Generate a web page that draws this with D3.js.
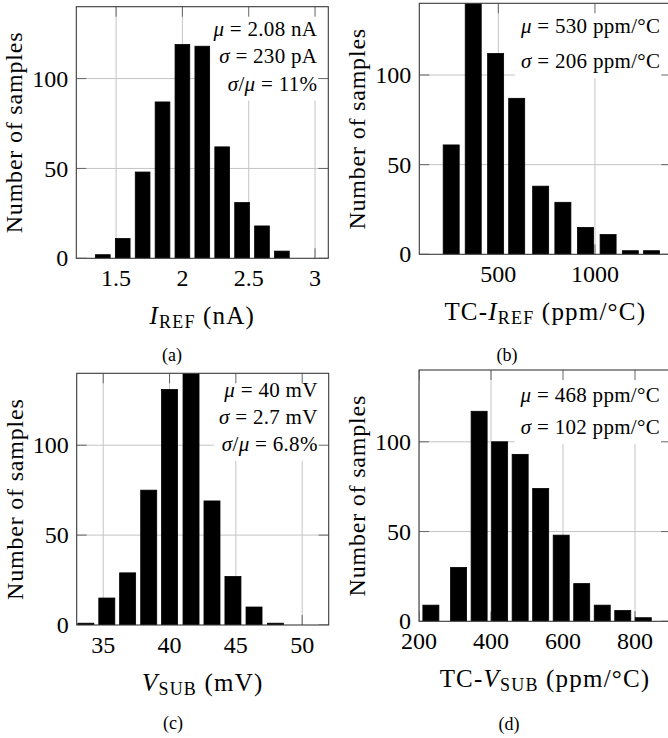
<!DOCTYPE html>
<html>
<head>
<meta charset="utf-8">
<script src="https://cdn.jsdelivr.net/npm/d3@7"></script>
<style>
  html, body { margin: 0; padding: 0; background: #fff; }
  svg { display: block; font-family: "Liberation Serif", "DejaVu Serif", serif; }
</style>
</head>
<body>
<svg id="fig" width="668" height="738"></svg>
<script>
// Histogram bin centres and sample counts for each measured quantity
const iRefBins     = [1.4, 1.55, 1.7, 1.85, 2.0, 2.15, 2.3, 2.45, 2.6, 2.75];
const iRefCounts   = [2, 11, 48, 87, 119, 118, 62, 31, 18, 4];

const tcIrefBins   = [256, 370, 486, 595, 719, 834, 951, 1068, 1183, 1293];
const tcIrefCounts = [61, 143, 112, 87, 38, 29, 15, 11, 2, 2];

const vSubBins     = [33.69, 35.27, 36.84, 38.43, 40.0, 41.62, 43.2, 44.78, 46.37, 47.98, 49.56];
const vSubCounts   = [1, 15, 29, 75, 131, 142, 69, 27, 10, 1, 0];

const tcVsubBins   = [233, 310, 367, 424, 481, 538, 595, 652, 709, 766, 823];
const tcVsubCounts = [9, 30, 117, 100, 93, 74, 48, 21, 9, 6, 2];

// Tick values
const iRefTicks   = [1.5, 2, 2.5, 3];
const tcIrefTicks = [500, 1000];
const vSubTicks   = [35, 40, 45, 50];
const tcVsubTicks = [200, 400, 600, 800];
const countTicks  = [0, 50, 100];
const countMax    = 140;

// Summary statistics shown in each panel (parts: [text, italic?])
const iRefStats   = [[["μ", 1], [" = 2.08 nA", 0]], [["σ", 1], [" = 230 pA", 0]], [["σ", 1], ["/", 0], ["μ", 1], [" = 11%", 0]]];
const tcIrefStats = [[["μ", 1], [" = 530 ppm/°C", 0]], [["σ", 1], [" = 206 ppm/°C", 0]]];
const vSubStats   = [[["μ", 1], [" = 40 mV", 0]], [["σ", 1], [" = 2.7 mV", 0]], [["σ", 1], ["/", 0], ["μ", 1], [" = 6.8%", 0]]];
const tcVsubStats = [[["μ", 1], [" = 468 ppm/°C", 0]], [["σ", 1], [" = 102 ppm/°C", 0]]];

// Axis titles: [text, style] where style is "n" normal, "i" italic, "s" subscript
const iRefTitle   = [["I", "i"], ["REF", "s"], [" (nA)", "n"]];
const tcIrefTitle = [["TC-", "n"], ["I", "i"], ["REF", "s"], [" (ppm/°C)", "n"]];
const vSubTitle   = [["V", "i"], ["SUB", "s"], [" (mV)", "n"]];
const tcVsubTitle = [["TC-", "n"], ["V", "i"], ["SUB", "s"], [" (ppm/°C)", "n"]];

const panels = [
  { bins: iRefBins, counts: iRefCounts, ticks: iRefTicks, domain: [1.2, 3.1], stats: iRefStats, title: iRefTitle, caption: "(a)",
    box: [76.3, 6.7, 252, 251.6], barW: 14.7, lineGap: 27.3, firstBase: 29.3, capX: 172, capY: 361 },
  { bins: tcIrefBins, counts: tcIrefCounts, ticks: tcIrefTicks, domain: [91, 1395], stats: tcIrefStats, title: tcIrefTitle, caption: "(b)",
    box: [419.3, 3.3, 252, 251], barW: 16, lineGap: 35.5, firstBase: 29.5, capX: 507, capY: 361 },
  { bins: vSubBins, counts: vSubCounts, ticks: vSubTicks, domain: [33, 52], stats: vSubStats, title: vSubTitle, caption: "(c)",
    box: [76.7, 373.3, 252, 251.7], barW: 16, lineGap: 26.7, firstBase: 24, capX: 173, capY: 729 },
  { bins: tcVsubBins, counts: tcVsubCounts, ticks: tcVsubTicks, domain: [200, 900], stats: tcVsubStats, title: tcVsubTitle, caption: "(d)",
    box: [419, 370, 252, 251.3], barW: 16, lineGap: 32.3, firstBase: 31.7, capX: 509, capY: 730 }
];

const svg = d3.select("#fig");
const gridColor = "#c4c4c4";
const axisColor = "#3a3a3a";
const tickLen = 10;

panels.forEach((p, i) => {
  const [bx, by, bw, bh] = p.box;
  const x = d3.scaleLinear().domain(p.domain).range([bx, bx + bw]);
  const y = d3.scaleLinear().domain([0, countMax]).range([by + bh, by]);
  const g = svg.append("g");

  const clipId = "clip" + i;
  svg.append("clipPath").attr("id", clipId)
    .append("rect").attr("x", bx).attr("y", by).attr("width", bw).attr("height", bh);

  // drawing layers, back to front
  const gridL = g.append("g").attr("clip-path", `url(#${clipId})`);
  const boxL  = g.append("g");
  const tickL = g.append("g").attr("stroke", "#666").attr("stroke-width", 1).attr("clip-path", `url(#${clipId})`);
  const barL  = g.append("g").attr("clip-path", `url(#${clipId})`);
  const textL = g.append("g");

  // grid
  gridL.selectAll("line.gx").data(p.ticks).join("line")
    .attr("x1", d => x(d)).attr("x2", d => x(d))
    .attr("y1", by).attr("y2", by + bh)
    .attr("stroke", gridColor).attr("stroke-width", 1);
  gridL.selectAll("line.gy").data(countTicks.filter(d => d > 0)).join("line")
    .attr("x1", bx).attr("x2", bx + bw)
    .attr("y1", d => y(d)).attr("y2", d => y(d))
    .attr("stroke", gridColor).attr("stroke-width", 1);

  // statistics text, with a white block behind it that hides the grid
  const statT = textL.append("g").attr("font-size", 21).attr("letter-spacing", 0.3).attr("text-anchor", "end");
  p.stats.forEach((line, k) => {
    const t = statT.append("text")
      .attr("x", bx + bw - 11)
      .attr("y", by + p.firstBase + k * p.lineGap);
    line.forEach(([s, it]) => t.append("tspan").text(s).attr("font-style", it ? "italic" : "normal"));
  });
  const bb = statT.node().getBBox();
  boxL.append("rect")
    .attr("x", bb.x - 5).attr("y", by + 0.5)
    .attr("width", bx + bw - 0.5 - (bb.x - 5))
    .attr("height", bb.y + bb.height + 5 - (by + 0.5))
    .attr("fill", "#fff");

  // inward ticks on all four sides
  p.ticks.forEach(t => {
    tickL.append("line").attr("x1", x(t)).attr("x2", x(t)).attr("y1", by).attr("y2", by + tickLen);
    tickL.append("line").attr("x1", x(t)).attr("x2", x(t)).attr("y1", by + bh).attr("y2", by + bh - tickLen);
  });
  countTicks.forEach(t => {
    tickL.append("line").attr("x1", bx).attr("x2", bx + tickLen).attr("y1", y(t)).attr("y2", y(t));
    tickL.append("line").attr("x1", bx + bw).attr("x2", bx + bw - tickLen).attr("y1", y(t)).attr("y2", y(t));
  });

  // bars
  const data = p.bins.map((b, k) => ({ b, c: p.counts[k] }));
  barL.selectAll("rect").data(data).join("rect")
    .attr("x", d => x(d.b) - p.barW / 2)
    .attr("width", p.barW)
    .attr("y", d => y(d.c))
    .attr("height", d => y(0) - y(d.c))
    .attr("fill", "#000").attr("stroke", "#000").attr("stroke-width", 0.8);

  // frame
  g.append("rect").attr("x", bx).attr("y", by).attr("width", bw).attr("height", bh)
    .attr("fill", "none").attr("stroke", axisColor).attr("stroke-width", 1.1);

  // tick labels
  g.append("g").attr("font-size", 24).attr("text-anchor", "middle")
    .selectAll("text").data(p.ticks).join("text")
    .attr("x", d => x(d)).attr("y", by + bh + 27.5).text(d => String(d));
  g.append("g").attr("font-size", 24).attr("text-anchor", "end")
    .selectAll("text").data(countTicks).join("text")
    .attr("x", bx - 8).attr("y", d => y(d)).attr("dy", "0.34em").text(d => String(d));

  // y title
  g.append("text").attr("font-size", 24).attr("text-anchor", "middle")
    .attr("letter-spacing", 0.8)
    .attr("transform", `translate(${bx - 54},${by + bh / 2}) rotate(-90)`)
    .text("Number of samples");

  // x title
  const xt = g.append("text").attr("font-size", 25).attr("letter-spacing", 1.2).attr("text-anchor", "middle")
    .attr("x", bx + bw / 2).attr("y", by + bh + 66);
  p.title.forEach(([s, st], k) => {
    const ts = xt.append("tspan").text(s);
    if (st === "i") ts.attr("font-style", "italic");
    if (st === "s") ts.attr("font-size", 18).attr("dy", 4);
    if (st !== "s" && k > 0 && p.title[k - 1][1] === "s") ts.attr("dy", -4);
  });

  // caption
  g.append("text").attr("font-size", 18).attr("text-anchor", "middle")
    .attr("x", p.capX).attr("y", p.capY).text(p.caption);
});
</script>
</body>
</html>
